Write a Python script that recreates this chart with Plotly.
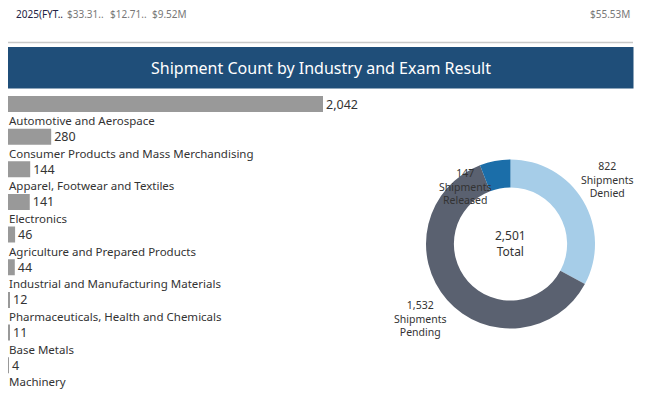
import plotly.graph_objects as go

# The page body has an 8px margin, so the figure is drawn 8px in from the corner.
OFF = 8
W, H = 645 - OFF, 397 - OFF

industries = [
    "Automotive and Aerospace",
    "Consumer Products and Mass Merchandising",
    "Apparel, Footwear and Textiles",
    "Electronics",
    "Agriculture and Prepared Products",
    "Industrial and Manufacturing Materials",
    "Pharmaceuticals, Health and Chemicals",
    "Base Metals",
    "Machinery",
]
shipments = [2042, 280, 144, 141, 46, 44, 12, 11, 4]

results = ["Denied", "Pending", "Released"]
result_counts = [822, 1532, 147]
result_colors = ["#A6CDE8", "#5A6170", "#1B6EA9"]

top_labels = ["2025(FYT..", "$33.31..", "$12.71..", "$9.52M", "$55.53M"]

title = "Shipment Count by Industry and Exam Result"
FONT = "Noto Sans"
TXT = "#333333"


def px(x):
    return (x - OFF) / W


def py(y):
    return 1 - (y - OFF) / H


fig = go.Figure()

fig.add_trace(go.Bar(
    x=shipments, y=industries, orientation="h",
    marker=dict(color="#999999", line=dict(width=0)),
    width=0.49,
    texttemplate="%{x:,}", textposition="outside", constraintext="none",
    textfont=dict(family=FONT, size=12.5, color=TXT),
    cliponaxis=False, hoverinfo="skip",
    xaxis="x", yaxis="y",
))

fig.add_trace(go.Pie(
    labels=results, values=result_counts,
    marker=dict(colors=result_colors, line=dict(width=0)),
    hole=0.67, sort=False, direction="clockwise", rotation=0,
    textinfo="none", showlegend=False, hoverinfo="skip",
    domain=dict(x=[px(426), px(595)], y=[py(328.5), py(159.5)]),
))

scale = (323 - 8) / shipments[0]
fig.update_layout(
    width=W, height=H,
    margin=dict(l=0, r=0, t=0, b=0),
    paper_bgcolor="white", plot_bgcolor="white",
    showlegend=False,
    font=dict(family=FONT, size=12, color=TXT),
    xaxis=dict(domain=[px(8), px(360)], range=[0, (360 - 8) / scale],
               visible=False, fixedrange=True),
    yaxis=dict(domain=[py(381.5), py(87.7)], categoryorder="array",
               categoryarray=industries, autorange=False,
               range=[len(industries) - 0.5, -0.5],
               visible=False, fixedrange=True),
    bargap=0.5,
)

ann = []
for name in industries:
    ann.append(dict(x=px(7), y=name, xref="paper", yref="y", yshift=-16.5,
                    text=name, showarrow=False, xanchor="left", yanchor="middle",
                    font=dict(family=FONT, size=11.5, color=TXT)))

# Top strip labels
top_pos = [(14, "#222244"), (65, "#777777"), (108, "#777777"), (150, "#777777"), (588, "#777777")]
for lab, (x, c) in zip(top_labels, top_pos):
    ann.append(dict(x=px(x), y=py(14), xref="paper", yref="paper", text=lab,
                    showarrow=False, xanchor="left", yanchor="middle",
                    font=dict(family=FONT, size=10, color=c)))

# Title banner
ann.append(dict(x=px(321), y=py(68), xref="paper", yref="paper", text=title,
                showarrow=False, xanchor="center", yanchor="middle",
                font=dict(family=FONT, size=16, color="white")))

# Donut labels
donut_pos = [(607, 179), (420, 318), (465, 186)]
for i, (x, y) in enumerate(donut_pos):
    ann.append(dict(x=px(x), y=py(y), xref="paper", yref="paper",
                    text=f"{result_counts[i]:,}<br>Shipments<br>{results[i]}",
                    showarrow=False, xanchor="center", yanchor="middle",
                    font=dict(family=FONT, size=10.5, color=TXT)))
ann.append(dict(x=px(510.5), y=py(243), xref="paper", yref="paper",
                text=f"{sum(result_counts):,}<br>Total",
                showarrow=False, xanchor="center", yanchor="middle",
                font=dict(family=FONT, size=12, color=TXT)))

fig.update_layout(
    annotations=ann,
    shapes=[
        dict(type="line", xref="paper", yref="paper", x0=px(8), x1=px(633),
             y0=py(42.5), y1=py(42.5), line=dict(color="#C8C8C8", width=1.5)),
        dict(type="rect", xref="paper", yref="paper", x0=px(8), x1=px(633.5),
             y0=py(88.5), y1=py(47), fillcolor="#1F4E79", line=dict(width=0),
             layer="below"),
    ],
)

fig.write_html("out.html")
